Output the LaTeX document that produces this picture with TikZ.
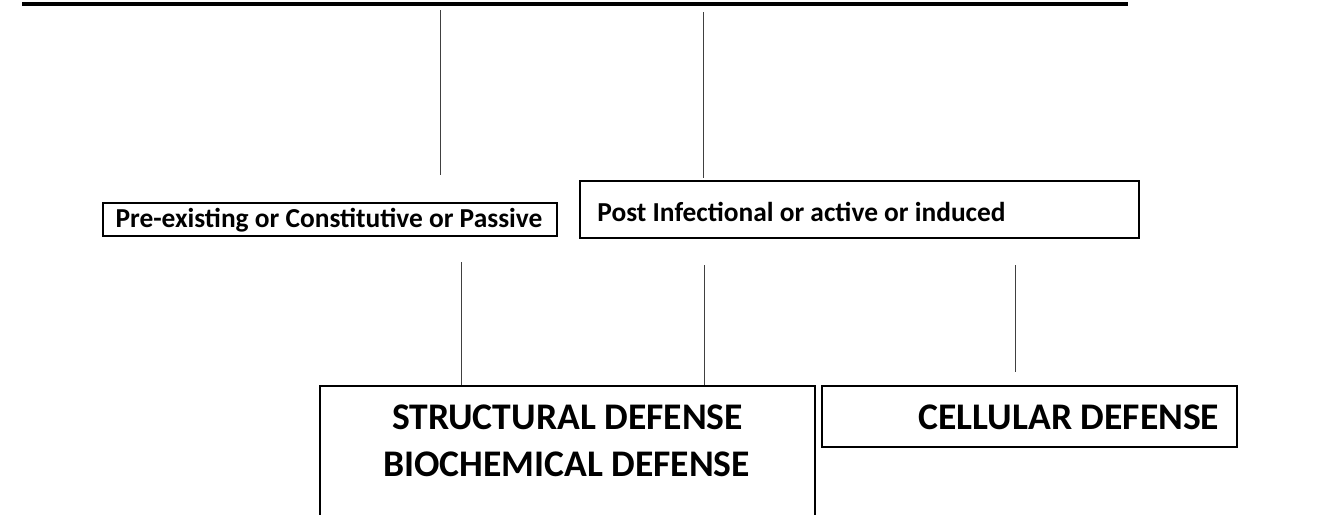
\documentclass[tikz,border=0pt]{standalone}
\usepackage{fontspec}
\setmainfont{Carlito}
\usetikzlibrary{positioning,calc}

\begin{document}
\begin{tikzpicture}[x=0.5pt, y=-0.5pt]
	\tikzstyle{typebox} = [rectangle, draw=black, line width=1pt, inner sep=0pt]
	\tikzstyle{defbox} = [rectangle, draw=black, line width=1pt, inner sep=0pt]
	\tikzstyle{smalltext} = [font=\fontsize{13.7}{16}\selectfont\bfseries, inner sep=0pt, anchor=base]
	\tikzstyle{bigtext} = [font=\fontsize{18.8}{23}\selectfont\bfseries, inner sep=0pt, anchor=base]
	\tikzstyle{link} = [line width=0.5pt, draw=black!75]
	\useasboundingbox (0,0) rectangle (1317,514);
	\clip (0,0) rectangle (1317,514);
	% heading rule
	\coordinate (rule_left) at (22,4);
	\coordinate (rule_right) at (1128,4);
	\draw[line width=2pt] (rule_left) -- (rule_right);
	% defence types
	\node (passive) at (330,219.5) [typebox, minimum width=227pt, minimum height=16.5pt] {};
	\node at ($(passive.center)+(-1,8)$) [smalltext] {Pre-existing or Constitutive or Passive};
	\node (active) at (859.5,209.5) [typebox, minimum width=279.5pt, minimum height=28.5pt] {};
	\node at ($(active.west)+(18,12)$) [smalltext, anchor=base west] {Post Infectional or active or induced};
	% upper links
	\coordinate (top_1) at (440,10);
	\coordinate (top_2) at (703,12);
	\draw[link] (top_1) -- ($(top_1)+(0,165)$);
	\draw[link] (top_2) -- ($(top_2)+(0,166)$);
	% defence kinds
	\node (structural) at (567.5,470) [defbox, minimum width=247.5pt, minimum height=84pt] {};
	\node at ($(structural.north)+(0,44)$) [bigtext] {STRUCTURAL DEFENSE};
	\node at ($(structural.north)+(-1,91)$) [bigtext] {BIOCHEMICAL DEFENSE};
	\node (cellular) at (1029.5,416.5) [defbox, minimum width=207.5pt, minimum height=30.5pt] {};
	\node at ($(cellular.center)+(39.5,12.5)$) [bigtext] {CELLULAR DEFENSE};
	% lower links
	\coordinate (low_1) at (461,262);
	\coordinate (low_2) at (704,265);
	\coordinate (low_3) at (1015,265);
	\draw[link] (low_1) -- (low_1 |- structural.north);
	\draw[link] (low_2) -- (low_2 |- structural.north);
	\draw[link] (low_3) -- ($(low_3)+(0,107)$);
\end{tikzpicture}
\end{document}
